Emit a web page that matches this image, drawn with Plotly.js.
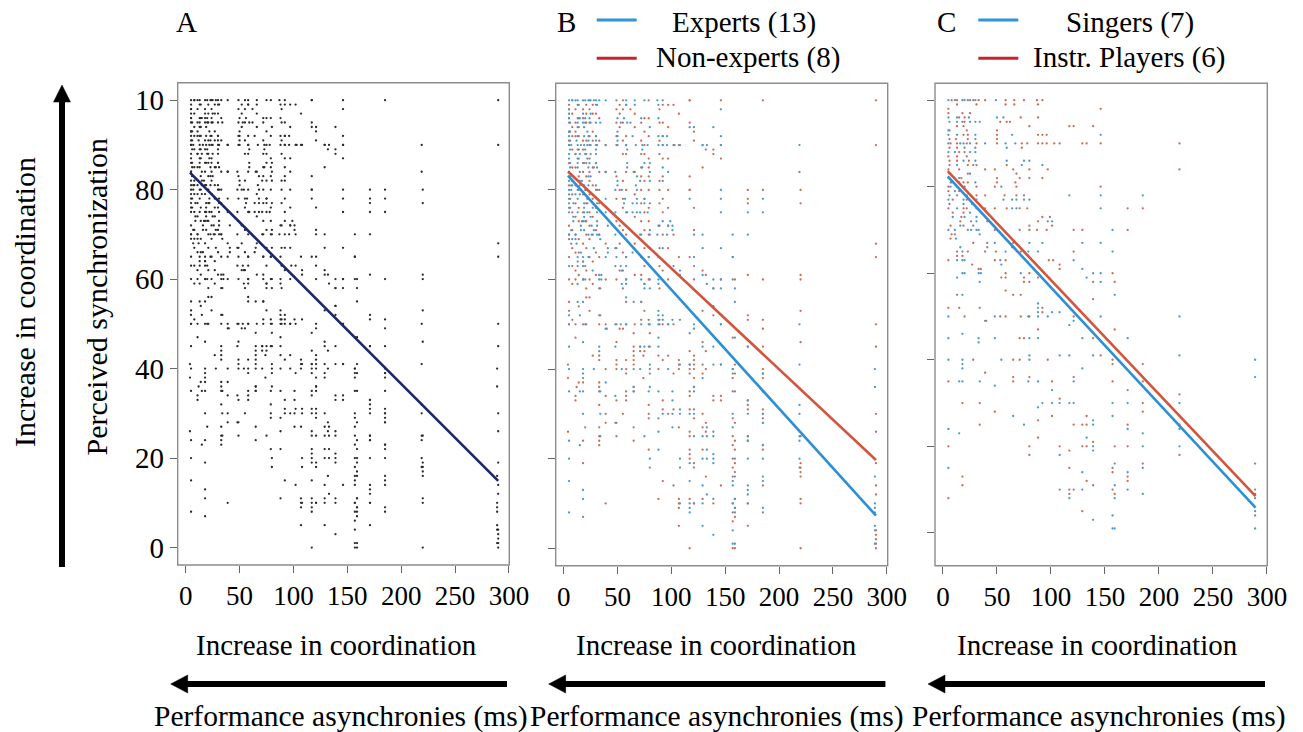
<!DOCTYPE html>
<html><head><meta charset="utf-8">
<script src="https://cdn.plot.ly/plotly-3.0.1.min.js"></script>
<style>html,body{margin:0;padding:0;background:#fff;}#chart{width:1303px;height:732px;}</style>
</head><body><div id="chart"></div>
<script>
// ---------- DATA ----------
// rows: [rating, [asynchrony values (ms)]]
const singersRows = [
[100,[5,11,18,20,25,30,49]],[96,[5,13,24,50,56]],[95,[6,13,18,25,30,34]],[93,[5]],
[92,[5,13,30,64,146]],[91,[30]],[90,[5,16,19,25,39,58,67]],[89,[20,30,59]],[88,[5,11,25,30]],
[86,[19,30,59,75,80]],[85,[13,73,92]],[83,[23]],[82,[5,15]],[81,[8,15,30]],[80,[7,13,20,54]],
[79,[11]],[78,[6,13,22,117,146,185]],[77,[5,19,31,56,64,68,75,80]],[76,[19]],[75,[13,31,64,68,146]],
[74,[25]],[73,[9,20,31]],[72,[26,31,97,101]],[71,[16,28]],[70,[5,11,23,26,31,33,157]],[69,[34]],
[68,[12]],[67,[48,80,92,129,146]],[66,[16,41]],[65,[18,58,79,88,157]],[63,[13,18,20,53,121]],
[62,[54]],[61,[129]],[60,[18,20,33,35,72,88,139,146]],[59,[13,133]],[58,[34,146]],[55,[18,159]],
[53,[88]],[52,[34,88]],[51,[88,101,108]],[50,[5,48,80,88,97,146,219]],[49,[39,121]],[48,[117]],
[46,[18]],[45,[5,33,48,80,88,129,171]],[44,[33]],[41,[80,108,117,139,219]],[40,[5,18,54,80,289]],
[39,[18]],[38,[18,129]],[36,[289]],[35,[15,18,34,79,88,121]],[34,[48]],[33,[101]],
[30,[92,101,108,117,121,157,171,219]],[29,[88]],[27,[65,157]],[26,[139]],[25,[75,139]],
[24,[5,171,219]],[23,[15,185]],[22,[133]],[20,[139,185,219]],[19,[139]],[18,[108]],[16,[159,289]],
[15,[5,185]],[14,[129,171]],[11,[159]],[10,[108,129,171]],[9,[185]],[8,[117,159,289]],[5,[289]],
[4,[157]],[3,[139]],[1,[157,159,289]]
];
const instrRows = [
[100,[8,13,23,28,33,39,58,66,75,87,92]],[99,[13,31,58,66,88]],[98,[5,146]],[97,[5,18,25]],
[96,[15,20,72,88]],[95,[20,53,59,62]],[94,[13,19,80,117,121,139]],[93,[6,22,50]],
[92,[19,23,50,88,92,96]],[91,[6,12,23,50]],[90,[7,13,22,31,50,73,78,88,92,96,103,108,129,133,146,219]],
[89,[6,13,73]],[88,[15,20]],[87,[5,13,22]],[86,[6,13,24]],[85,[6,23,28,31,59]],
[84,[5,15,39,48,65,80,97,219]],[83,[6,25,68]],[82,[17,50,71,80,92]],[81,[7,19,23,50,67]],
[80,[5,31,48,68,146]],[79,[5,15]],[78,[31,39,57,68,75]],[77,[9,22]],[76,[6,27]],
[75,[5,19,22,39,48,59,71,78,171,185]],[74,[9,19]],[73,[17,92,99]],[72,[16,41,88]],[71,[7,19,80,101]],
[70,[48,71,80,87,96,121,129,171]],[69,[8,11]],[68,[7]],[67,[28,41,65]],[66,[64]],
[65,[13,23,39,49,72,121]],[64,[13,18]],[63,[5,48,58,98,102]],[62,[27,108]],[61,[33,35,108]],
[60,[58,80,157]],[59,[54,58,75,88]],[58,[75,80,139,159]],[56,[58]],[55,[13,65,72]],[54,[139]],
[52,[5,15,92]],[51,[92]],[50,[20,53,58,72,79,121]],[49,[40]],[47,[88,159]],[45,[71,75,139]],
[41,[146]],[40,[28,65,71,97,157]],[39,[157,185]],[37,[39]],[36,[65,80,121]],[35,[5,65,101,157,185]],
[33,[171]],[32,[219]],[31,[108]],[30,[18,34,185]],[28,[48,185]],[27,[101,133]],[26,[88]],
[25,[34,121,129,133,171,219]],[22,[88]],[21,[139]],[20,[5,80,108,129,133,159,171]],[19,[117]],
[18,[80,219]],[16,[185]],[15,[117,157]],[14,[157]],[13,[18,171]],[12,[133,171]],[11,[18,139]],
[10,[117,121,157,289]],[9,[117,159,289]],[8,[5]],[5,[129]],[4,[289]]
];
const nonExpRows = [
[100,[8,24,55,79,117]],[99,[5,14,21,27,30,52,58,92,97,102]],[98,[5,11,18,24,49,55,62,89]],
[97,[8,21,27,30,52,66,107]],[96,[5,14,18,33,75,79]],[95,[5,11,21,24,49,55,72,89,92,117]],
[94,[8,14,52,66,97]],[93,[5,11,27,75,121]],[92,[8,11,14,24,30,49,58,79,92]],
[91,[5,18,21,27,33,55,72,89,121]],[90,[5,24,30,39,49,58,75,92,102,107]],[89,[8,14,18]],
[88,[11,21,55,58,72,75,89]],[87,[14,24,79,92,97]],[86,[5,18,21,30]],[85,[8,11,27,72,79]],
[84,[5,18,24,33,39,58,66]],[83,[14,21,49,72,79,92]],[82,[8,24,55,75,89]],[81,[5,11,18,27]],
[80,[14,21,30,33,52,58,72,79,89,97,117]],[79,[8,18,24,66]],[78,[5,27,49,55,75,92]],
[77,[11,21,33,72,89]],[76,[5,14,30,55,79,97,121]],[75,[8,18,24,58,75,92]],[74,[11,27,66]],
[73,[14,18,21,49,72,79]],[72,[5,24,52,89,97]],[71,[8,30,55,75,121]],
[70,[5,11,21,27,33,58,72,79,92,102]],[69,[5,14,24]],[68,[18,39,52,66]],[67,[8,21,49,75,89,97]],
[66,[11,14,30,55]],[65,[5,24,33,58,72,79,107,117]],[64,[18,27]],[63,[8,75,89]],[62,[11,21,52,55,92]],
[61,[14,30,66,72]],[60,[5,11,18,24,39,49,58,79,97,121]],[59,[8,27,75]],[58,[21,33,55,89]],
[56,[21,24]],[55,[5,58,72]],[54,[14]],[53,[5,24,75]],[52,[33]],[51,[8,72,79,89]],
[50,[5,11,18,21,33,39,49,58,66,89,92,97,102]],[49,[52,55]],[48,[65,80]],[47,[11]],[46,[49]],
[45,[65,71,79]],[44,[65,71,75,117]],[43,[27,33,65,74,88,97,121]],[42,[33,49,58,65,92,107,121]],
[41,[4,49,65,107,117,121]],[40,[39,49,58,88,107,117,121]],[39,[58,80,102,117]],[38,[4,74,121]],
[37,[14,18,33]],[36,[12,33,65,121]],[35,[33,58,65,117]],[34,[11,39,58,117]],[33,[11,49,58,92]],
[32,[33,79]],[31,[92,102,117,121]],[30,[39,55,79,97]],[29,[79,121]],[28,[39,49]],[27,[20,33,107]],
[26,[4,117]],[25,[33,49,117]],[24,[18,33,65]],[23,[33]],[22,[79,117]],[21,[117]],[20,[117]],
[19,[18,121]],[18,[121]],[15,[92]],[14,[102]],[11,[88,107,117]],[10,[39,107,121]],[9,[107]],
[7,[18]],[5,[107]],[0,[117]]
];
// columns: [asynchrony (ms), [ratings]]
const nonExpCols = [
[117,[100,83,80]],
[129,[90,85,62,53,46,41,39,30,27,22,11]],
[132,[89,61,44,40,28,26,16]],
[139,[89,88,58,54,52,34,33,10]],
[146,[100,90,87,60,50,41,34,33,14]],
[157,[65,47,40,38,29,25,23,20,18,16,10,8,6,0]],
[159,[60,41,39,35,28,24,22,19,17,11,9,7,0]],
[171,[80,78,77,61,52,51,45,33,32,31,25,24,10,5]],
[185,[100,80,60,51,49,45,40,39,38,31,30,29,28,23,22,14,8]],
[220,[80,77,61,60,53,46,25,19,18,17,16,11,10,0]],
[290,[100,90,68,65,50,45,30,26,19,14,12,4,3,2,1,0]]
];
// regression lines (end points)
const fitAllX = [4, 290],    fitAllY = [83.8, 14.9];
const fitExpX = [4, 290],    fitExpY = [83.2, 7.3];
const fitNonX = [4, 290],    fitNonY = [84.1, 19.7];
const fitSingX = [4.4, 289.4], fitSingY = [82.4, 5.8];
const fitInstX = [4.4, 289.4], fitInstY = [83.6, 8.5];
const xTicks = [0, 50, 100, 150, 200, 250, 300];
const yTicks = [0, 20, 40, 60, 80, 100];
const yTickText = ['0', '20', '40', '60', '80', '10'];

// ---------- build ----------
function fromRows(rows){const x=[],y=[];rows.forEach(r=>r[1].forEach(v=>{x.push(v);y.push(r[0]);}));return {x,y};}
function fromCols(cols){const x=[],y=[];cols.forEach(c=>c[1].forEach(v=>{x.push(c[0]);y.push(v);}));return {x,y};}
const sing = fromRows(singersRows), inst = fromRows(instrRows);
const nA = fromRows(nonExpRows), nB = fromCols(nonExpCols);
const non = {x: nA.x.concat(nB.x), y: nA.y.concat(nB.y)};
const exp = {x: sing.x.concat(inst.x), y: sing.y.concat(inst.y)};
const all = {x: exp.x.concat(non.x), y: exp.y.concat(non.y)};

const W = 1303, H = 732;
const px = v => v / W, py = v => 1 - v / H;
const SERIF = 'Liberation Serif, Times New Roman, serif';
const BLUE_DOT = '#4b98c9', RED_DOT = '#c86c58';
const BLUE_LINE = '#2d8fd5', RED_LINE = '#d2553d';
const BOX = '#8c8c8c';

function dots(d, xa, ya, color){
  return {type:'scatter', mode:'markers', x:d.x, y:d.y, xaxis:xa, yaxis:ya,
    marker:{size:2.3, color:color, line:{width:0}}, hoverinfo:'skip', showlegend:false};
}
function fit(x, y, xa, ya, color){
  return {type:'scatter', mode:'lines', x:x, y:y, xaxis:xa, yaxis:ya,
    line:{color:color, width:2.6}, hoverinfo:'skip', showlegend:false};
}
const traces = [
  dots(all, 'x', 'y', '#2a2a2a'),
  fit(fitAllX, fitAllY, 'x', 'y', '#1b2868'),
  dots(non, 'x2', 'y2', RED_DOT),
  dots(exp, 'x2', 'y2', BLUE_DOT),
  fit(fitNonX, fitNonY, 'x2', 'y2', RED_LINE),
  fit(fitExpX, fitExpY, 'x2', 'y2', BLUE_LINE),
  dots(inst, 'x3', 'y3', RED_DOT),
  dots(sing, 'x3', 'y3', BLUE_DOT),
  fit(fitInstX, fitInstY, 'x3', 'y3', RED_LINE),
  fit(fitSingX, fitSingY, 'x3', 'y3', BLUE_LINE)
];

function xAxis(d0, d1, r1, anchor){
  return {domain:[px(d0), px(d1)], range:[-7.4, r1], anchor:anchor, tickvals:xTicks,
    ticks:'outside', ticklen:7, tickwidth:1, tickcolor:'#666', showline:false, showgrid:false,
    zeroline:false, tickfont:{family:SERIF, size:27, color:'#000'}, fixedrange:true};
}
function yAxis(top, bot, r0, r1, anchor, labels){
  return {domain:[py(bot), py(top)], range:[r0, r1], anchor:anchor, tickvals:yTicks,
    ticktext:yTickText, showticklabels:labels, ticks:'outside', ticklen:7, tickwidth:1,
    tickcolor:'#666', showline:false, showgrid:false, zeroline:false,
    tickfont:{family:SERIF, size:29, color:'#000'}, fixedrange:true};
}

const shapes = [];
['x','x2','x3'].forEach((xa,i)=>{
  const ya = ['y','y2','y3'][i];
  shapes.push({type:'rect', xref:xa+' domain', yref:ya+' domain', x0:0, x1:1, y0:0, y1:1,
    line:{color:BOX, width:1.4}, layer:'above'});
});
function hArrow(tip, tail, y){
  shapes.push({type:'line', xref:'paper', yref:'paper', x0:px(tip+14), x1:px(tail), y0:py(y), y1:py(y),
    line:{color:'#000', width:6}});
  shapes.push({type:'path', xref:'paper', yref:'paper', fillcolor:'#000', line:{color:'#000', width:0.5},
    path:`M${px(tip)},${py(y)} L${px(tip+17)},${py(y-9)} L${px(tip+17)},${py(y+9)} Z`});
}
hArrow(170.7, 507, 684);
hArrow(548.7, 885.4, 684);
hArrow(928, 1265, 684);
// vertical arrow
shapes.push({type:'line', xref:'paper', yref:'paper', x0:px(62), x1:px(62), y0:py(99), y1:py(567),
  line:{color:'#000', width:6}});
shapes.push({type:'path', xref:'paper', yref:'paper', fillcolor:'#000', line:{color:'#000', width:0.5},
  path:`M${px(62)},${py(85)} L${px(53.5)},${py(102)} L${px(70.5)},${py(102)} Z`});
// legend lines
function legLine(x0, x1, y, c){
  shapes.push({type:'line', xref:'paper', yref:'paper', x0:px(x0), x1:px(x1), y0:py(y), y1:py(y),
    line:{color:c, width:3}});
}
legLine(596.7, 636.7, 20, '#2f95db'); legLine(596.7, 636.7, 58.3, '#c8232a');
legLine(978.3, 1018.3, 20, '#2f95db'); legLine(978.3, 1018.3, 58.3, '#c8232a');

const annotations = [];
function txt(t, x, y, size, angle){
  annotations.push({text:t, x:px(x), y:py(y), xref:'paper', yref:'paper', showarrow:false,
    xanchor:'center', yanchor:'middle', textangle:angle||0,
    font:{family:SERIF, size:size, color:'#000'}});
}
txt('A', 187, 22.5, 29); txt('B', 566, 22.5, 29); txt('C', 946, 22.5, 29);
txt('Experts (13)', 744, 22.5, 29); txt('Non-experts (8)', 747.5, 57, 29);
txt('Singers (7)', 1129.7, 22.5, 29); txt('Instr. Players (6)', 1129.5, 57, 29);
[336.5, 716.5, 1097].forEach(x=>txt('Increase in coordination', x, 645, 29));
[341, 716.5, 1099].forEach(x=>txt('Performance asynchronies (ms)', x, 716.5, 29.5));
txt('Increase in coordination', 24, 302, 30, -90);
txt('Perceived synchronization', 96, 297.5, 30, -90);

const layout = {
  width:W, height:H, margin:{l:0, r:0, t:0, b:0}, paper_bgcolor:'#fff', plot_bgcolor:'#fff',
  showlegend:false,
  xaxis: xAxis(177.7, 509.3, 300.3, 'y'),
  yaxis: yAxis(82.7, 565, -3.9, 103.9, 'x', true),
  xaxis2: xAxis(555.7, 887.7, 300.9, 'y2'),
  yaxis2: yAxis(83.3, 565.7, -3.9, 103.8, 'x2', false),
  xaxis3: xAxis(935, 1267.3, 300.3, 'y3'),
  yaxis3: yAxis(83.3, 565.7, -7.6, 103.9, 'x3', false),
  shapes: shapes, annotations: annotations
};
Plotly.newPlot('chart', traces, layout, {staticPlot:true, displayModeBar:false});
</script></body></html>
